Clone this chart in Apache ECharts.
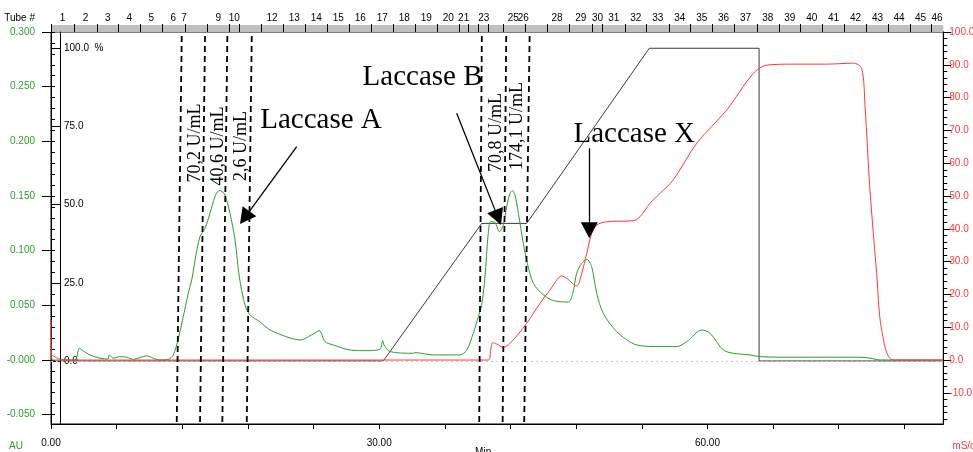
<!DOCTYPE html>
<html><head><meta charset="utf-8">
<script src="https://cdn.jsdelivr.net/npm/echarts@6/dist/echarts.min.js"></script>
<style>html,body{margin:0;padding:0;background:#fff}#c{width:973px;height:452px}</style>
</head><body><div id="c"></div>
<script>
// ---------- data ----------
const uvTime = [0,0.21,0.82,2.19,2.59,2.95,3.56,4.48,5.21,5.33,5.69,6.31,6.92,7.52,8.75,9.35,9.96,10.72,11.18,11.64,12.09,12.55,12.86,13.25,13.62,14.08,14.53,14.99,15.36,15.63,15.90,16.36,16.82,17.21,17.73,18.19,19.10,20.02,21.85,22.76,23.98,24.52,25.05,25.80,27.33,28.86,30.07,30.32,30.44,30.99,33.12,33.27,34.95,37.39,38.00,38.60,39.06,39.37,39.67,39.97,40.19,40.59,40.98,41.34,41.65,41.96,42.17,42.41,42.72,43.17,43.54,44.09,45.00,45.91,47.29,47.69,48.05,48.51,48.97,49.42,49.88,50.48,51.71,53.54,55.67,57.19,58.11,59.48,60.24,61.45,62.37,63.89,64.81,67.85,73.95,74.86,75.78,81.54];
const uvAbs = [0.0046,0.0037,0.0006,0.0,0.0107,0.0082,0.0046,0.0016,0.0009,0.0046,0.0016,0.003,0.0025,0.0006,0.0037,0.0016,0.0,0.0006,0.0046,0.0198,0.0396,0.061,0.0732,0.096,0.1128,0.1205,0.1342,0.1494,0.1549,0.1541,0.1509,0.1342,0.1098,0.0762,0.0503,0.0412,0.0348,0.0274,0.0201,0.0183,0.0238,0.0268,0.0167,0.0137,0.0091,0.0085,0.0098,0.0177,0.0137,0.0076,0.0061,0.0067,0.0046,0.0046,0.0091,0.0244,0.0396,0.0503,0.0762,0.1162,0.1265,0.1256,0.1174,0.1235,0.1402,0.1525,0.1549,0.151,0.1342,0.1067,0.0884,0.0701,0.0595,0.0543,0.053,0.061,0.0793,0.0884,0.0921,0.0853,0.061,0.0427,0.0259,0.0137,0.0122,0.0122,0.0167,0.0274,0.0244,0.0091,0.0061,0.0046,0.003,0.0025,0.0025,0.0016,0.0,0.0];

const condTime = [0,0.1,39.97,40.19,40.37,40.74,41.34,41.96,43.48,44.70,45.61,46.68,47.14,48.05,48.51,48.97,49.42,49.88,50.79,53.23,53.84,54.75,55.67,56.88,59.02,61.76,64.20,65.42,67.85,70.90,73.34,74.10,74.41,74.86,75.47,75.93,76.99,81.54];
const condValue = [12.2,0,0,3.05,5.27,4.88,3.87,5.09,11.19,17.29,21.34,25.61,24.9,22.56,26.4,32.5,38.6,41.16,42.16,42.47,43.7,47.8,50.8,54.9,66.1,76.2,87.4,89.9,90.2,90.2,90.5,88.9,77.2,51.8,26.4,9.1,0,0];

const gradTime = [0,30.37,39.37,43.48,54.69,64.72,64.72,81.56];
const gradPct  = [0,0,44,44,100,100,0,0];

// fraction (tube) marks on the top axis, in minutes
const tubeTicks = [0,2.10,4.20,6.15,8.16,10.17,12.25,14.30,16.30,17.21,19.26,21.23,23.24,25.25,27.26,29.27,31.28,33.30,35.31,37.32,38.12,39.09,40.00,41.34,43.32,45.36,47.37,49.47,50.42,52.47,54.45,56.49,58.47,60.48,62.46,64.51,66.52,68.53,70.54,72.51,74.56,76.54,78.52,80.44];
const tubeNames = ['1','2','3','4','5','6','7','9','10','12','13','14','15','16','17','18','19','20','21','23','25','26','28','29','30','31','32','33','34','35','36','37','38','39','40','41','42','43','44','45','46'];
const tubeNamePos = [1.05,3.15,5.18,7.16,9.17,11.18,12.16,15.29,16.75,20.20,22.24,24.25,26.26,28.27,30.28,32.29,34.31,36.32,37.72,39.55,42.26,43.17,46.25,48.43,49.95,51.44,53.46,55.47,57.48,59.48,61.47,63.48,65.51,67.52,69.53,71.53,73.54,75.55,77.51,79.48,80.99];

// axis ticks
const minuteTicks = [0,6,12,18,24,30,36,42,48,54,60,66,72,78];
const minuteLabels = [0,30,60];
const auMajor = [-0.05,0,0.05,0.1,0.15,0.2,0.25,0.3];
const pctTicks = [0,25,50,75,100];
const condMajor = [-10,0,10,20,30,40,50,60,70,80,90,100];

// fraction-collection cut lines (minutes at top / bottom of plot)
const cutTop    = [11.95,14.08,16.12,18.35,39.38,41.61,43.75];
const cutBottom = [11.49,13.62,15.66,17.89,39.14,41.28,43.25];

// annotations (minutes, AU)
const peakNames = ['Laccase A','Laccase B','Laccase X'];
const peakNameT = [24.68,33.96,53.31];
const peakNameAU = [0.2195,0.2584,0.2063];
const arrowFromT = [22.46,37.08,49.2];
const arrowFromAU = [0.1951,0.2256,0.1936];
const arrowHeadT = [17.71,40.86,49.2];
const arrowHeadAU = [0.1302,0.1302,0.1186];
const activityText = ['70,2 U/mL','40,6 U/mL','2,6 U/mL','70,8 U/mL','174,1 U/mL'];
const activityT = [13.16,15.27,17.37,40.68,42.64];
const activityAU = [0.1985,0.1957,0.1957,0.2081,0.214];

// ---------- chart ----------
const X_MIN = 0, X_MAX = 81.56;
const AU_MIN = -0.0586, AU_MAX = 0.300;
const PCT_MIN = -20.15, PCT_MAX = 105.2;
const C_MIN = -19.5, C_MAX = 100;

const auMinor = [];
for (let i = -5; i <= 30; i++) auMinor.push(+(i * 0.01).toFixed(2));
const condMinor = [];
for (let v = -18; v <= 100; v += 2) condMinor.push(v);

const AXF = "'Liberation Sans Narrow','Arial Narrow','Liberation Sans',Arial,sans-serif";
const SERIF = "'Liberation Serif','Times New Roman',serif";
const GREEN = '#2f9a2f', RED = '#ff3838';

const zip = (a, b) => a.map((v, i) => [v, b[i]]);

const cutLines = cutTop.map((t, i) => [
  {coord: [t, 0.2963], symbol: 'none'},
  {coord: [cutBottom[i], AU_MIN], symbol: 'none'}
]);
const arrows = arrowFromT.map((t, i) => [
  {coord: [t, arrowFromAU[i]], symbol: 'none', lineStyle: {type: 'solid', width: 1.3, color: '#000'}},
  {coord: [arrowHeadT[i], arrowHeadAU[i]], symbol: 'triangle', symbolSize: [17, 16]}
]);

const textPoints = peakNames.map((n, i) => ({
  coord: [peakNameT[i], peakNameAU[i]], value: n,
  label: {fontSize: 29, fontFamily: SERIF, color: '#000'}
})).concat(activityText.map((n, i) => ({
  coord: [activityT[i], activityAU[i]], value: n,
  label: {fontSize: 18, fontFamily: SERIF, color: '#000', rotate: 90}
})));

const chart = echarts.init(document.getElementById('c'), null, {renderer: 'canvas'});
chart.setOption({
  animation: false,
  backgroundColor: '#fff',
  grid: [
    {left: 51, right: 29.7, top: 32, bottom: 28, show: true, borderColor: '#000', borderWidth: 1,
      backgroundColor: 'transparent', containLabel: false, outerBoundsMode: 'none'},
    // grey fraction strip above the plot
    {left: 51, right: 29.7, top: 25, height: 7, show: true, borderWidth: 0, borderColor: '#c0c0c0',
      backgroundColor: '#c0c0c0', containLabel: false, outerBoundsMode: 'none'}
  ],
  xAxis: [
    {
      type: 'value', gridIndex: 0, position: 'bottom', min: X_MIN, max: X_MAX,
      axisLine: {show: true, onZero: false, lineStyle: {color: '#000'}},
      axisTick: {show: true, length: 5, customValues: minuteTicks, lineStyle: {color: '#000'}},
      axisLabel: {customValues: minuteLabels, formatter: v => v.toFixed(2), margin: 14, fontSize: 10, fontFamily: AXF, color: '#000'},
      splitLine: {show: false},
      name: 'Min', nameLocation: 'middle', nameGap: 23, nameMoveOverlap: false,
      nameTextStyle: {fontSize: 10, fontFamily: AXF, color: '#000', padding: [0, 28, 0, 0]}
    },
    {
      type: 'value', gridIndex: 1, position: 'top', min: X_MIN, max: X_MAX, offset: 1, z: 5,
      axisLine: {show: false, onZero: false},
      axisTick: {show: true, inside: true, length: 8, customValues: tubeTicks, lineStyle: {color: '#000'}},
      axisLabel: {
        customValues: tubeNamePos, margin: 1, fontSize: 10, fontFamily: AXF, color: '#000',
        formatter: v => {
          let best = 0, d = 1e9;
          tubeNamePos.forEach((p, i) => { const e = Math.abs(p - v); if (e < d) { d = e; best = i; } });
          return tubeNames[best];
        }
      },
      splitLine: {show: false},
      name: 'Tube #', nameLocation: 'start', nameGap: 16, nameMoveOverlap: false,
      nameTextStyle: {fontSize: 10, fontFamily: AXF, color: '#000', verticalAlign: 'bottom', padding: [0, 0, 1, 0]}
    }
  ],
  yAxis: [
    {
      type: 'value', gridIndex: 0, position: 'left', min: AU_MIN, max: AU_MAX,
      axisLine: {show: true, onZero: false, lineStyle: {color: '#000'}},
      axisTick: {show: true, length: 9, customValues: auMajor, lineStyle: {color: '#000'}},
      axisLabel: {customValues: auMajor, margin: 16, fontSize: 10, fontFamily: AXF, color: GREEN,
        formatter: v => (Math.abs(v) < 1e-9 ? '-0.000' : v.toFixed(3))},
      splitLine: {show: false},
      name: 'AU', nameLocation: 'start', nameGap: 17, nameMoveOverlap: false,
      nameTextStyle: {fontSize: 10, fontFamily: AXF, color: GREEN, align: 'right', padding: [0, 28, 0, 0]}
    },
    {
      type: 'value', gridIndex: 0, position: 'left', min: AU_MIN, max: AU_MAX,
      axisLine: {show: false, onZero: false},
      axisTick: {show: true, inside: true, length: 4, customValues: auMinor, lineStyle: {color: '#000'}},
      axisLabel: {show: false}, splitLine: {show: false}
    },
    {
      type: 'value', gridIndex: 0, position: 'left', min: PCT_MIN, max: PCT_MAX, offset: -9,
      axisLine: {show: true, onZero: false, lineStyle: {color: '#000'}},
      axisTick: {show: true, length: 9, customValues: pctTicks, lineStyle: {color: '#000'}},
      axisLabel: {customValues: pctTicks, inside: true, margin: 4, fontSize: 10, fontFamily: AXF, color: '#000',
        formatter: v => (v === 100 ? '100.0  %' : v.toFixed(1))},
      splitLine: {show: false}
    },
    {
      type: 'value', gridIndex: 0, position: 'right', min: C_MIN, max: C_MAX,
      axisLine: {show: true, onZero: false, lineStyle: {color: '#000'}},
      axisTick: {show: true, length: 8, customValues: condMajor, lineStyle: {color: '#000'}},
      axisLabel: {customValues: condMajor, margin: 6, fontSize: 10, fontFamily: AXF, color: RED,
        formatter: v => v.toFixed(1)},
      splitLine: {show: false},
      name: 'mS/cm', nameLocation: 'start', nameGap: 17, nameMoveOverlap: false,
      nameTextStyle: {fontSize: 10, fontFamily: AXF, color: RED, align: 'left', padding: [0, 0, 0, 9]}
    },
    {
      type: 'value', gridIndex: 0, position: 'right', min: C_MIN, max: C_MAX,
      axisLine: {show: false, onZero: false},
      axisTick: {show: true, length: 4, customValues: condMinor, lineStyle: {color: '#000'}},
      axisLabel: {show: false}, splitLine: {show: false}
    },
    {
      type: 'value', gridIndex: 1, min: 0, max: 1, show: false
    }
  ],
  series: [
    {
      name: 'Gradient', type: 'line', xAxisIndex: 0, yAxisIndex: 2,
      data: zip(gradTime, gradPct), symbol: 'none',
      lineStyle: {color: '#3a3a3a', width: 1}, z: 2,
      markLine: {
        silent: true, symbol: 'none', animation: false,
        label: {show: false},
        lineStyle: {color: '#c8c8c8', type: [2, 3], width: 1},
        data: [[{coord: [X_MIN, 0]}, {coord: [X_MAX, 0]}]]
      }
    },
    {
      name: 'UV', type: 'line', xAxisIndex: 0, yAxisIndex: 0,
      data: zip(uvTime, uvAbs), symbol: 'none', smooth: 0.3,
      lineStyle: {color: GREEN, width: 1}, z: 3,
      markLine: {
        silent: true, animation: false, symbol: 'none',
        label: {show: false},
        lineStyle: {color: '#000', type: [6, 4], width: 1.8},
        data: cutLines.concat(arrows)
      },
      markPoint: {
        silent: true, animation: false, symbol: 'rect', symbolSize: 1,
        itemStyle: {color: 'rgba(0,0,0,0)'},
        label: {show: true, position: 'inside', formatter: p => p.value},
        data: textPoints
      }
    },
    {
      name: 'Conductivity', type: 'line', xAxisIndex: 0, yAxisIndex: 3,
      data: zip(condTime, condValue), symbol: 'none', smooth: 0.3,
      lineStyle: {color: RED, width: 1}, z: 4
    },
    {
      name: 'Fraction strip', type: 'line', xAxisIndex: 1, yAxisIndex: 5,
      data: [], silent: true, symbol: 'none'
    }
  ]
});
</script>
</body></html>
